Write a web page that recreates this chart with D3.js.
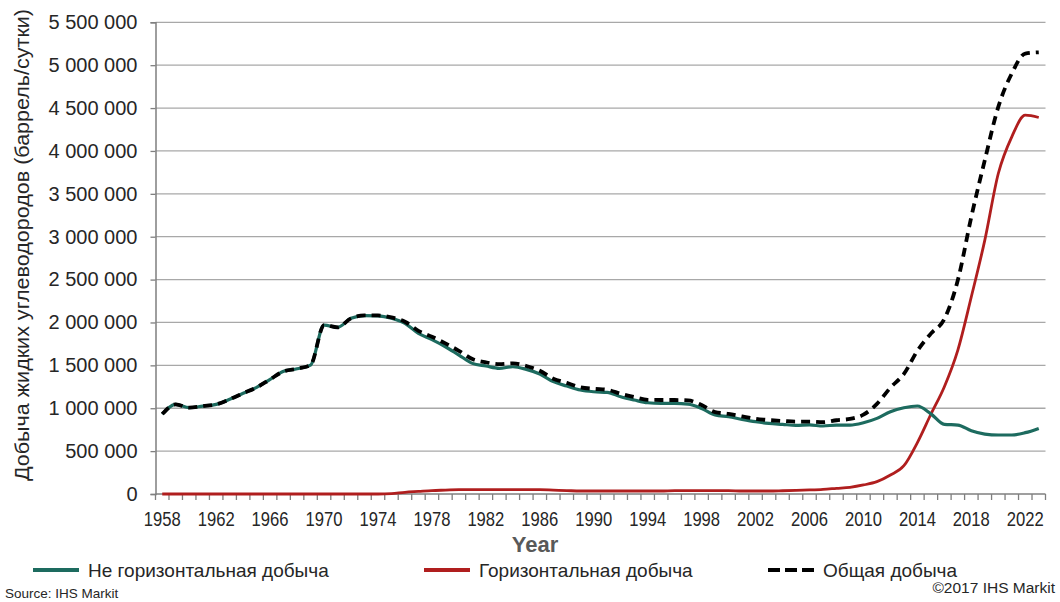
<!DOCTYPE html>
<html>
<head>
<meta charset="utf-8">
<script src="https://cdn.jsdelivr.net/npm/d3@7"></script>
<style>
  body { margin: 0; background: #fff; }
  svg { display: block; font-family: "Liberation Sans", Arial, sans-serif; }
</style>
</head>
<body>
<script>
// Years on the category axis
var years = [1958, 1959, 1960, 1961, 1962, 1963, 1964, 1965, 1966, 1967,
    1968, 1969, 1970, 1971, 1972, 1973, 1974, 1975, 1976, 1977,
    1978, 1979, 1980, 1981, 1982, 1983, 1984, 1985, 1986, 1987,
    1988, 1989, 1990, 1991, 1992, 1993, 1994, 1995, 1996, 1997,
    1998, 1999, 2000, 2001, 2002, 2003, 2004, 2005, 2006, 2007,
    2008, 2009, 2010, 2011, 2012, 2013, 2014, 2015, 2016, 2017,
    2018, 2019, 2020, 2021, 2022, 2023];

// Не горизонтальная добыча (баррель/сутки)
var nonHorizontal = [932000, 1045000, 1006000, 1025000, 1045000, 1104000, 1174000, 1243000, 1337000, 1430000,
    1461000, 1503000, 1970000, 1943000, 2048000, 2080000, 2078000, 2050000, 1990000, 1873000,
    1800000, 1717000, 1620000, 1523000, 1492000, 1465000, 1484000, 1453000, 1399000, 1310000,
    1259000, 1212000, 1192000, 1185000, 1134000, 1096000, 1064000, 1057000, 1057000, 1049000,
    998000, 921000, 901000, 870000, 843000, 824000, 812000, 800000, 805000, 793000,
    804000, 804000, 831000, 882000, 960000, 1006000, 1026000, 935000, 812000, 804000,
    738000, 699000, 688000, 688000, 715000, 765000];

// Горизонтальная добыча
var horizontal = [0, 0, 0, 0, 0, 0, 0, 0, 0, 0,
    0, 0, 0, 0, 0, 0, 0, 5000, 20000, 30000,
    40000, 45000, 50000, 50000, 50000, 50000, 50000, 50000, 50000, 45000,
    40000, 35000, 35000, 35000, 35000, 35000, 35000, 35000, 40000, 40000,
    40000, 40000, 40000, 35000, 35000, 35000, 38000, 42000, 47000, 54000,
    66000, 78000, 105000, 144000, 221000, 330000, 600000, 930000, 1251000, 1678000,
    2300000, 2960000, 3737000, 4165000, 4417000, 4390000];

// Общая добыча
var total = [932000, 1045000, 1006000, 1025000, 1045000, 1104000, 1174000, 1243000, 1337000, 1430000,
    1461000, 1503000, 1970000, 1943000, 2048000, 2082000, 2082000, 2059000, 2008000, 1903000,
    1834000, 1756000, 1670000, 1573000, 1535000, 1515000, 1523000, 1492000, 1437000, 1345000,
    1295000, 1245000, 1226000, 1215000, 1168000, 1130000, 1098000, 1096000, 1096000, 1092000,
    1037000, 955000, 935000, 905000, 877000, 862000, 852000, 843000, 845000, 838000,
    860000, 875000, 925000, 1050000, 1240000, 1400000, 1670000, 1870000, 2040000, 2494000,
    3232000, 3893000, 4514000, 4903000, 5136000, 5150000];

var yTicks = [0, 500000, 1000000, 1500000, 2000000, 2500000, 3000000, 3500000, 4000000, 4500000, 5000000, 5500000];
var xLabelYears = [1958, 1962, 1966, 1970, 1974, 1978, 1982, 1986, 1990, 1994, 1998, 2002, 2006, 2010, 2014, 2018, 2022];

var seriesNames = ["Не горизонтальная добыча", "Горизонтальная добыча", "Общая добыча"];

function init() {
    var width = 1060, height = 602;
    var plotLeft = 155.5, plotRight = 1045.5, plotTop = 22.3, plotBottom = 494;
    var teal = "#1d6b5f", red = "#b01e1e";

    var svg = d3.select("body").append("svg")
        .attr("width", width)
        .attr("height", height);

    svg.append("rect").attr("width", width).attr("height", height).attr("fill", "#fff");

    var x = d3.scaleBand().domain(years).range([plotLeft, plotRight]);
    var y = d3.scaleLinear().domain([0, 5500000]).range([plotBottom, plotTop]);
    var cx = function (yr) { return x(yr) + x.bandwidth() / 2; };

    var fmt = function (v) { return d3.format(",")(v).replace(/,/g, " "); };

    // Gridlines
    svg.append("g").selectAll("line")
        .data(yTicks.slice(1))
        .enter().append("line")
        .attr("x1", plotLeft).attr("x2", plotRight)
        .attr("y1", function (d) { return y(d); })
        .attr("y2", function (d) { return y(d); })
        .attr("stroke", "#a8a8a8")
        .attr("stroke-width", 1.3);

    // Y axis
    var yAxis = svg.append("g")
        .attr("transform", "translate(" + plotLeft + ",0)")
        .call(d3.axisLeft(y).tickValues(yTicks).tickSize(5).tickFormat(fmt));
    yAxis.select(".domain").attr("stroke", "#7f7f7f").attr("stroke-width", 1.5);
    yAxis.selectAll(".tick line").attr("stroke", "#7f7f7f").attr("stroke-width", 1.3);
    yAxis.selectAll(".tick text")
        .attr("x", -18)
        .attr("font-size", 20)
        .attr("font-family", "Liberation Sans, Arial, sans-serif")
        .attr("fill", "#262626");

    // X axis: ticks between categories, labels every 4 years
    var xg = svg.append("g").attr("transform", "translate(0," + plotBottom + ")");
    xg.append("line").attr("x1", plotLeft).attr("x2", plotRight)
        .attr("stroke", "#7f7f7f").attr("stroke-width", 1.5);
    xg.selectAll("line.tk")
        .data(years.concat([null]))
        .enter().append("line")
        .attr("class", "tk")
        .attr("x1", function (d) { return d === null ? plotRight : x(d); })
        .attr("x2", function (d) { return d === null ? plotRight : x(d); })
        .attr("y1", 0).attr("y2", 6)
        .attr("stroke", "#7f7f7f").attr("stroke-width", 1.3);
    xg.selectAll("text")
        .data(xLabelYears)
        .enter().append("text")
        .attr("x", function (d) { return cx(d) - 18.5; })
        .attr("y", 32)
        .attr("font-size", 20)
        .attr("textLength", 37)
        .attr("lengthAdjust", "spacingAndGlyphs")
        .attr("fill", "#262626")
        .text(function (d) { return d; });

    // Axis titles
    svg.append("text")
        .attr("x", 535).attr("y", 552)
        .attr("text-anchor", "middle")
        .attr("font-size", 22)
        .attr("font-weight", "bold")
        .attr("fill", "#595959")
        .text("Year");

    svg.append("text")
        .attr("transform", "translate(29,245) rotate(-90)")
        .attr("text-anchor", "middle")
        .attr("font-size", 20)
        .attr("textLength", 472)
        .attr("lengthAdjust", "spacingAndGlyphs")
        .attr("fill", "#262626")
        .text("Добыча жидких углеводородов (баррель/сутки)");

    // Lines
    var line = function (values) {
        return d3.line()
            .x(function (d, i) { return cx(years[i]); })
            .y(function (d) { return y(d); })
            .curve(d3.curveMonotoneX)(values);
    };

    svg.append("path").attr("d", line(horizontal))
        .attr("fill", "none").attr("stroke", red).attr("stroke-width", 2.8);
    svg.append("path").attr("d", line(nonHorizontal))
        .attr("fill", "none").attr("stroke", teal).attr("stroke-width", 3.2);
    svg.append("path").attr("d", line(total))
        .attr("fill", "none").attr("stroke", "#000").attr("stroke-width", 3.8)
        .attr("stroke-dasharray", "9,6");

    // Legend
    var legend = [
        { name: seriesNames[0], x: 33, color: teal, dash: null },
        { name: seriesNames[1], x: 424, color: red, dash: null },
        { name: seriesNames[2], x: 768, color: "#000", dash: "12,5" }
    ];
    var lg = svg.append("g").selectAll("g")
        .data(legend)
        .enter().append("g")
        .attr("transform", function (d) { return "translate(" + d.x + ",570)"; });
    lg.append("line")
        .attr("x1", 0).attr("x2", 46)
        .attr("stroke", function (d) { return d.color; })
        .attr("stroke-width", 4)
        .attr("stroke-dasharray", function (d) { return d.dash; });
    lg.append("text")
        .attr("x", 55).attr("y", 7)
        .attr("font-size", 19)
        .attr("fill", "#262626")
        .text(function (d) { return d.name; });

    // Source notes
    svg.append("text").attr("x", 5).attr("y", 598)
        .attr("font-size", 13.5).attr("fill", "#262626")
        .text("Source: IHS Markit");
    svg.append("text").attr("x", 1055).attr("y", 593)
        .attr("text-anchor", "end")
        .attr("font-size", 15.5).attr("fill", "#262626")
        .text("©2017 IHS Markit");
}

window.onload = init;
</script>
</body>
</html>
